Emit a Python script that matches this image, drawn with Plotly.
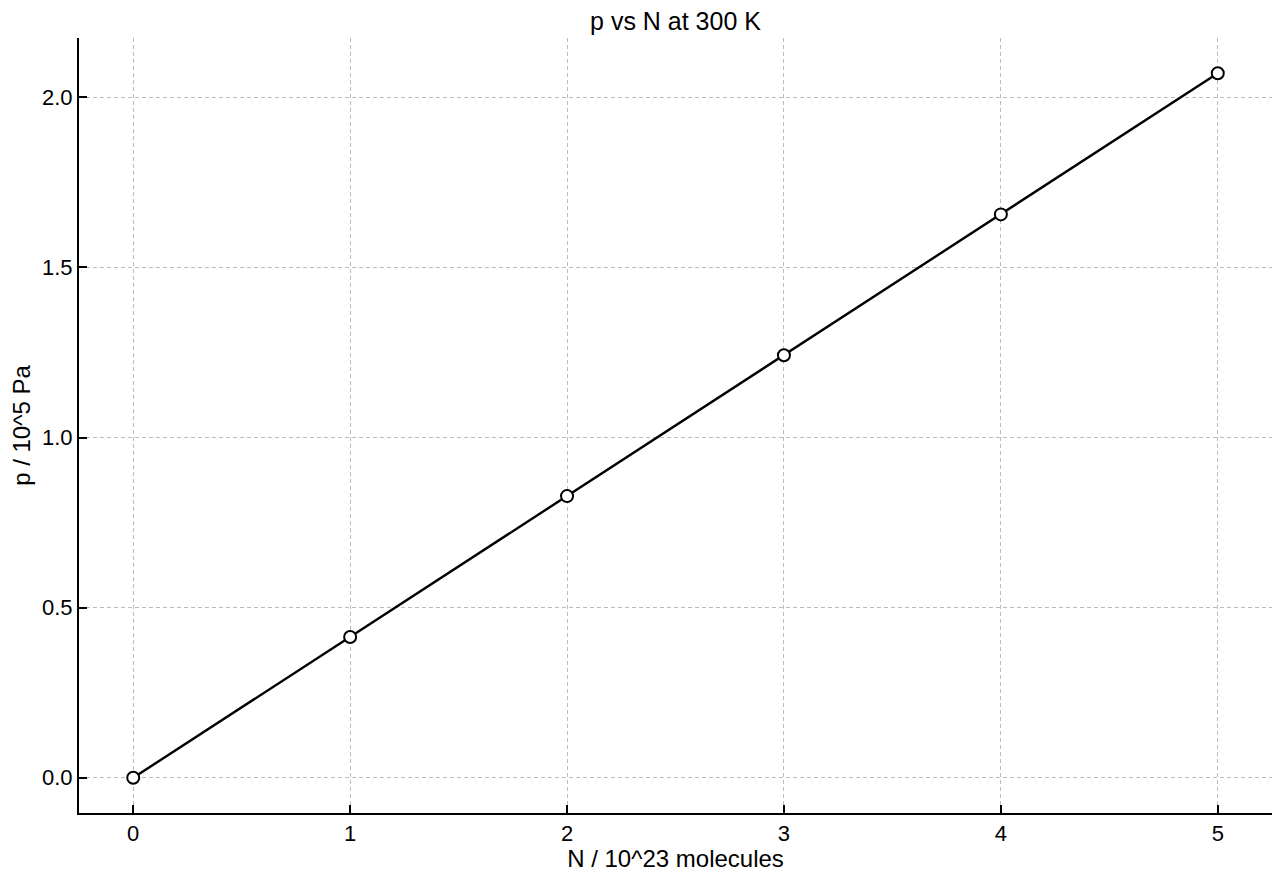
import plotly.graph_objects as go

# ideal gas at 300 K, pressure against number of molecules
n_molecules = [0, 1, 2, 3, 4, 5]  # 10^23 molecules
pressure = [0.0, 0.414, 0.828, 1.242, 1.656, 2.071]  # 10^5 Pa

x_ticks = [0, 1, 2, 3, 4, 5]
y_ticks = [0.0, 0.5, 1.0, 1.5, 2.0]

FONT = "Liberation Sans, Arial, Helvetica, sans-serif"

fig = go.Figure()
fig.add_trace(
    go.Scatter(
        x=n_molecules,
        y=pressure,
        mode="lines+markers",
        line=dict(color="black", width=2.4),
        marker=dict(size=12, color="white", line=dict(color="black", width=2)),
        showlegend=False,
    )
)

axis_common = dict(
    showline=True,
    linecolor="black",
    linewidth=2,
    ticks="inside",
    ticklen=8,
    tickwidth=1.6,
    tickcolor="black",
    showgrid=True,
    gridcolor="#bcbcbc",
    griddash="4px,3px",
    gridwidth=1,
    zeroline=False,
    tickfont=dict(size=22, color="black"),
    mirror=False,
)

fig.update_xaxes(
    range=[-0.25, 5.25],
    tickvals=x_ticks,
    ticktext=[str(t) for t in x_ticks],
    title=dict(text="N / 10^23 molecules", font=dict(size=24, color="black"), standoff=6),
    **axis_common,
)
fig.update_yaxes(
    range=[-0.1035, 2.1745],
    tickvals=y_ticks,
    ticktext=[f"{t:.1f}" for t in y_ticks],
    title=dict(text="p / 10^5 Pa", font=dict(size=24, color="black"), standoff=12),
    **axis_common,
)

# page body adds an 8px margin, so the figure is a bit smaller than the window
fig.update_layout(
    width=1264,
    height=864,
    template="plotly_white",
    plot_bgcolor="white",
    paper_bgcolor="white",
    font=dict(family=FONT, color="black"),
    title=dict(text="p vs N at 300 K", xref="paper", x=0.5, xanchor="center",
               y=0.985, yanchor="middle", font=dict(size=25, color="black")),
    margin=dict(l=71, r=0, t=30, b=59),
)

fig.write_html("out.html")
